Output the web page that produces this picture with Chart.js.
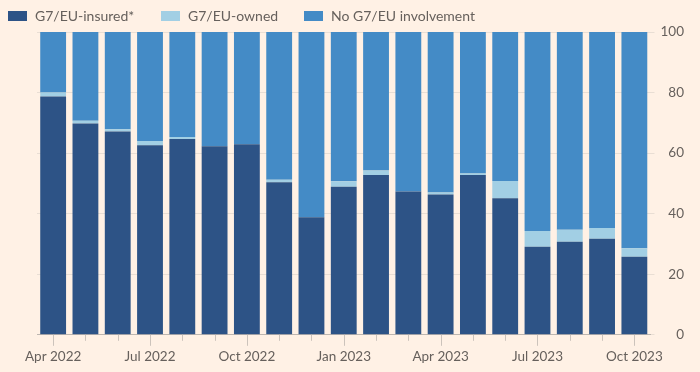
<!DOCTYPE html>
<html>
<head>
<meta charset="utf-8">
<script src="https://cdn.jsdelivr.net/npm/chart.js@4/dist/chart.umd.min.js"></script>
<style>
  html, body { margin: 0; padding: 0; background: #fff1e5; }
  #wrap { position: relative; width: 700px; height: 372px; }
  #legend { position: absolute; left: 0; top: 0; width: 700px; height: 30px; font: 14px Lato, sans-serif; color: #66605c; }
  .item { position: absolute; top: 8px; height: 16px; line-height: 16px; white-space: nowrap; }
  .box { position: absolute; left: 0; top: 3px; width: 19px; height: 10px; }
  .lbl { position: absolute; left: 27px; top: 0; }
</style>
</head>
<body>
<div id="wrap">
  <canvas id="chart" width="700" height="372"></canvas>
  <div id="legend"></div>
</div>
<script>
// Monthly share (%) by G7/EU involvement
const months = ['Apr 2022', 'May 2022', 'Jun 2022', 'Jul 2022', 'Aug 2022', 'Sep 2022', 'Oct 2022',
  'Nov 2022', 'Dec 2022', 'Jan 2023', 'Feb 2023', 'Mar 2023', 'Apr 2023', 'May 2023', 'Jun 2023',
  'Jul 2023', 'Aug 2023', 'Sep 2023', 'Oct 2023'];
const insured = [78.7, 69.8, 67.1, 62.6, 64.7, 62.3, 62.9, 50.4, 38.8, 48.9, 52.8, 47.3, 46.3, 52.8, 45.1, 29.1, 30.7, 31.7, 25.8];
const owned = [1.3, 0.9, 0.8, 1.4, 0.6, 0, 0, 0.8, 0, 1.8, 1.5, 0, 0.7, 0.5, 5.7, 5.2, 4.0, 3.6, 2.8];
const noInvolvement = months.map((m, i) => +(100 - insured[i] - owned[i]).toFixed(1));
const yTicks = [0, 20, 40, 60, 80, 100];

const series = [
  { label: 'G7/EU-insured*', data: insured, color: '#2d5386', left: 8 },
  { label: 'G7/EU-owned', data: owned, color: '#a2cfe4', left: 161 },
  { label: 'No G7/EU involvement', data: noInvolvement, color: '#448bc6', left: 304 }
];

// Legend
const legend = document.getElementById('legend');
series.forEach(s => {
  const item = document.createElement('div');
  item.className = 'item';
  item.style.left = s.left + 'px';
  item.innerHTML = `<span class="box" style="background:${s.color}"></span><span class="lbl">${s.label}</span>`;
  legend.appendChild(item);
});

// Tick marks under the x axis, longer for labelled months
const tickMarks = {
  id: 'tickMarks',
  afterDraw(chart) {
    const x = chart.scales.x;
    const ctx = chart.ctx;
    ctx.save();
    ctx.strokeStyle = '#ccc3bb';
    ctx.lineWidth = 1;
    x.ticks.forEach((t, i) => {
      const px = Math.round(x.getPixelForTick(i)) + 0.5;
      const len = i % 3 === 0 ? 11 : 6;
      ctx.beginPath();
      ctx.moveTo(px, x.top);
      ctx.lineTo(px, x.top + len);
      ctx.stroke();
    });
    ctx.restore();
  }
};

new Chart(document.getElementById('chart'), {
  type: 'bar',
  data: {
    labels: months,
    datasets: series.map(s => ({
      label: s.label,
      data: s.data,
      backgroundColor: s.color,
      borderWidth: 0,
      categoryPercentage: 1,
      barPercentage: 0.8
    }))
  },
  options: {
    responsive: false,
    animation: false,
    layout: { padding: { left: 37, right: 16, top: 32, bottom: -7 } },
    plugins: { legend: { display: false }, tooltip: { enabled: false } },
    scales: {
      x: {
        stacked: true,
        grid: { display: false, drawTicks: false },
        border: { color: '#bdb6b0' },
        ticks: {
          autoSkip: false,
          maxRotation: 0,
          padding: 14,
          color: '#66605c',
          font: { family: 'Lato', size: 13.5 },
          callback: (v, i) => (i % 3 === 0 ? months[i] : '')
        }
      },
      y: {
        stacked: true,
        position: 'right',
        min: 0,
        max: 100,
        afterBuildTicks: axis => { axis.ticks = yTicks.map(v => ({ value: v })); },
        grid: { color: '#e9ded4', tickLength: 4, tickColor: '#e9ded4' },
        border: { display: false },
        ticks: {
          padding: 3,
          crossAlign: 'far',
          color: '#66605c',
          font: { family: 'Lato', size: 13.5 }
        }
      }
    }
  },
  plugins: [tickMarks]
});
</script>
</body>
</html>
